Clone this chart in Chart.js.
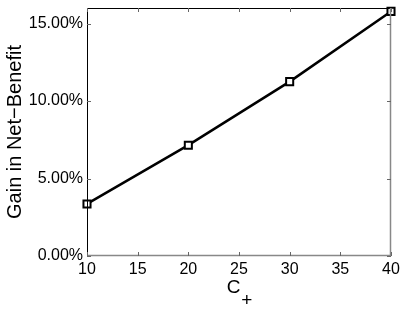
<!DOCTYPE html>
<html>
<head>
<meta charset="utf-8">
<script src="https://cdn.jsdelivr.net/npm/chart.js@4/dist/chart.umd.min.js"></script>
<style>
  html, body { margin: 0; padding: 0; background: #fff; }
  #wrap { width: 407px; height: 309px; }
</style>
</head>
<body>
<div id="wrap"><canvas id="chart_div"></canvas></div>
<script>
const cValues = [10, 20, 30, 40];
const gainValues = [3.36, 7.15, 11.25, 15.78];
const xTicks = [10, 15, 20, 25, 30, 35, 40];
const yTicks = [0, 5, 10, 15];

const fontFamily = '"Liberation Sans", Arial, Helvetica, sans-serif';

// box around plot area plus inward tick marks
const frame = {
  id: 'frame',
  afterDatasetsDraw(chart) {
    const { ctx, chartArea: a, scales } = chart;
    ctx.save();
    ctx.lineWidth = 1;
    ctx.strokeStyle = '#000';
    ctx.beginPath();
    ctx.moveTo(a.left + 0.5, a.bottom);
    ctx.lineTo(a.left + 0.5, a.top + 0.5);
    ctx.lineTo(a.right, a.top + 0.5);
    ctx.stroke();
    ctx.strokeStyle = '#888';
    ctx.lineWidth = 1.5;
    ctx.beginPath();
    ctx.moveTo(a.right - 0.5, a.top);
    ctx.lineTo(a.right - 0.5, a.bottom - 0.5);
    ctx.lineTo(a.left, a.bottom - 0.5);
    ctx.stroke();
    ctx.lineWidth = 1;
    ctx.strokeStyle = '#666';
    ctx.beginPath();
    xTicks.forEach(v => {
      const x = Math.round(scales.x.getPixelForValue(v)) + 0.5;
      ctx.moveTo(x, a.bottom); ctx.lineTo(x, a.bottom - 4);
      ctx.moveTo(x, a.top); ctx.lineTo(x, a.top + 4);
    });
    yTicks.forEach(v => {
      const y = Math.round(scales.y.getPixelForValue(v)) + 0.5;
      ctx.moveTo(a.left, y); ctx.lineTo(a.left + 4, y);
      ctx.moveTo(a.right, y); ctx.lineTo(a.right - 4, y);
    });
    ctx.stroke();
    ctx.restore();
  }
};

new Chart(document.getElementById('chart_div'), {
  type: 'line',
  data: {
    datasets: [{
      data: cValues.map((c, i) => ({ x: c, y: gainValues[i] })),
      borderColor: '#000',
      borderWidth: 2.5,
      pointStyle: 'rect',
      pointRadius: 5,
      pointBorderWidth: 2,
      pointBorderColor: '#000',
      pointBackgroundColor: '#fff',
      tension: 0,
      clip: false
    }]
  },
  options: {
    responsive: true,
    maintainAspectRatio: false,
    animation: false,
    layout: { padding: { top: 8, right: 16, left: 0, bottom: 0 } },
    plugins: { legend: { display: false }, tooltip: { enabled: false } },
    scales: {
      x: {
        type: 'linear',
        min: 10,
        max: 40,
        afterBuildTicks: s => { s.ticks = xTicks.map(v => ({ value: v })); },
        afterFit: s => { s.height = 53; s.paddingLeft = 0; s.paddingRight = 0; },
        grid: { display: false, drawTicks: false },
        border: { display: false },
        ticks: { color: '#000', font: { family: fontFamily, size: 16 }, padding: 4, maxRotation: 0 },
        title: {
          display: true,
          text: ['C  ', '   +'],
          color: '#000',
          font: { family: fontFamily, size: 19, lineHeight: 0.68 },
          padding: { top: 2, bottom: 2 }
        }
      },
      y: {
        min: 0,
        max: 16,
        afterBuildTicks: s => { s.ticks = yTicks.map(v => ({ value: v })); },
        afterFit: s => { s.width = 87; s.paddingTop = 0; s.paddingBottom = 0; },
        grid: { display: false, drawTicks: false },
        border: { display: false },
        ticks: {
          color: '#000',
          font: { family: fontFamily, size: 16 },
          padding: 4,
          callback: v => v.toFixed(2) + '%'
        },
        title: {
          display: true,
          text: 'Gain in Net\u2212Benefit',
          color: '#000',
          font: { family: fontFamily, size: 20 },
          padding: { top: 3, bottom: 0 }
        }
      }
    }
  },
  plugins: [frame]
});
</script>
</body>
</html>
